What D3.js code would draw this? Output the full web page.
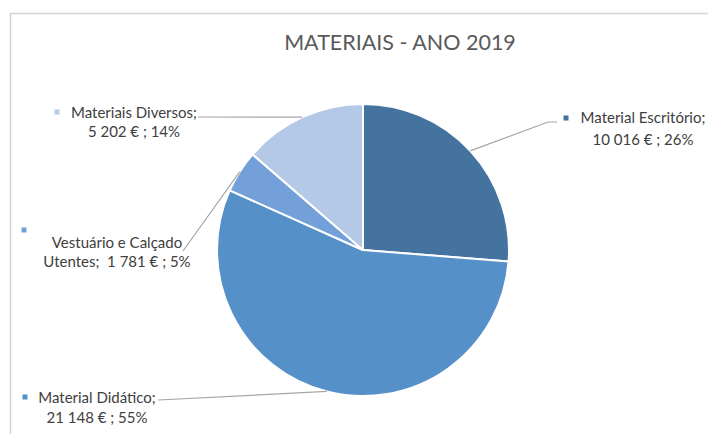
<!DOCTYPE html>
<html>
<head>
<meta charset="utf-8">
<script src="https://cdn.jsdelivr.net/npm/d3@7"></script>
<style>
  html, body { margin: 0; padding: 0; background: #ffffff; }
  svg { display: block; }
  text { font-family: Lato, "Noto Sans", sans-serif; white-space: pre; }
</style>
</head>
<body>
<svg id="chart" width="708" height="434"></svg>
<script>
// Spending on materials, 2019 (euros)
const categories = ["Material Escritório", "Material Didático", "Vestuário e Calçado Utentes", "Materiais Diversos"];
const values = [10016, 21148, 1781, 5202];
const percentLabels = ["26%", "55%", "5%", "14%"];
const valueLabels = ["10 016 €", "21 148 €", "1 781 €", "5 202 €"];
const colors = ["#44739f", "#5690c9", "#74a0d9", "#b4c8e7"];
const title = "MATERIAIS - ANO 2019";

// Label lines as they wrap in each data label
const labelLines = [
  ["Material Escritório;", "10 016 € ; 26%"],
  ["Material Didático;", "21 148 € ; 55%"],
  ["Vestuário e Calçado", "Utentes;  1 781 € ; 5%"],
  ["Materiais Diversos;", "5 202 € ; 14%"]
];

// Placement of each data label box (center x, line center y's, marker, leader start)
const labelLayout = [
  { cx: 643, y1: 118, y2: 140, marker: [566, 118], leader: [[557, 122], [548, 122]] },
  { cx: 97,  y1: 398, y2: 418, marker: [25, 397], leader: [[158, 400]] },
  { cx: 117, y1: 243, y2: 262, marker: [24, 230], leader: [[183, 251]] },
  { cx: 134, y1: 113, y2: 132, marker: [57, 112], leader: [[198, 117]] }
];

const svg = d3.select("#chart");

// Chart area frame
svg.append("path")
  .attr("d", "M10.5,434 L10.5,13.5 L708,13.5")
  .attr("fill", "none")
  .attr("stroke", "#d4d4d4")
  .attr("stroke-width", 1.5);

// Title
svg.append("text")
  .attr("x", 400)
  .attr("y", 42)
  .attr("dy", "0.35em")
  .attr("text-anchor", "middle")
  .attr("fill", "#595959")
  .attr("font-size", 21.5)
  .text(title);

const cx = 363, cy = 250, radius = 146;

const pie = d3.pie().sort(null).value(d => d)(values);
const arc = d3.arc().innerRadius(0).outerRadius(radius);

const g = svg.append("g").attr("transform", `translate(${cx},${cy})`);

g.selectAll("path.slice")
  .data(pie)
  .join("path")
  .attr("class", "slice")
  .attr("d", arc)
  .attr("fill", (d, i) => colors[i])
  .attr("stroke", "#ffffff")
  .attr("stroke-width", 2)
  .attr("stroke-linejoin", "round");

// Leader lines from the label to the middle of each slice's outer edge
pie.forEach((d, i) => {
  const mid = (d.startAngle + d.endAngle) / 2;
  const end = [cx + radius * Math.sin(mid), cy - radius * Math.cos(mid)];
  const pts = labelLayout[i].leader.concat([end]);
  svg.append("path")
    .attr("d", d3.line()(pts))
    .attr("fill", "none")
    .attr("stroke", "#a6a6a6")
    .attr("stroke-width", 1.2);
});

// Data labels
labelLines.forEach((lines, i) => {
  const L = labelLayout[i];
  svg.append("rect")
    .attr("x", L.marker[0] - 2.5)
    .attr("y", L.marker[1] - 2.5)
    .attr("width", 5)
    .attr("height", 5)
    .attr("fill", colors[i]);
  [L.y1, L.y2].forEach((yy, k) => {
    svg.append("text")
      .attr("x", L.cx)
      .attr("y", yy)
      .attr("dy", "0.35em")
      .attr("text-anchor", "middle")
      .attr("fill", "#404040")
      .attr("font-size", 15)
      .text(lines[k]);
  });
});
</script>
</body>
</html>
